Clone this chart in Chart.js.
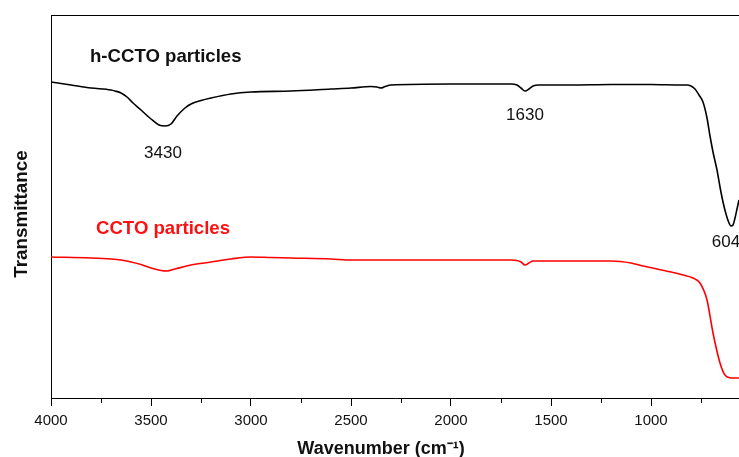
<!DOCTYPE html>
<html>
<head>
<meta charset="utf-8">
<script src="https://cdn.jsdelivr.net/npm/chart.js@4.4.1/dist/chart.umd.min.js"></script>
<style>
html,body{margin:0;padding:0;background:#fff;}
#wrap{width:739px;height:457px;position:relative;}
</style>
</head>
<body>
<div id="wrap"><canvas id="c" width="739" height="457"></canvas></div>
<script>
// Wavenumber (cm-1) and transmittance (arbitrary units)
const hWave = [4000,3900,3800,3700,3680,3650,3620,3590,3550,3500,3460,3430,3400,3370,3330,3300,3250,3200,3100,3000,2800,2600,2500,2400,2370,2350,2330,2300,2000,1800,1700,1670,1650,1630,1610,1590,1560,1400,1200,1000,850,820,800,780,760,740,720,705,690,670,655,640,625,612,600,590,580,570,560];
const hTrans = [316,313,310,308,307,305,301,295,288,279,273,272,274,282,290,294,297.5,300,304,306,307,309,310,311.5,311,310,311.5,313,314,314,314,313,310,307,309,312,313,313,313.5,313.5,313,313,312,309,303,296,280,262,246,228,211,196,184,176,172,173,180,189,198];

const cWave = [4000,3800,3700,3650,3600,3550,3500,3450,3420,3380,3300,3200,3100,3000,2900,2800,2600,2500,2000,1700,1670,1650,1630,1610,1590,1560,1500,1300,1200,1100,1040,900,840,790,755,720,690,655,630,595,560];
const cTrans = [141,140,139,138,136,133.5,130,127.5,127,129,133,136,139,141,140.5,140,139,138,138,138,137.5,136,133,135,137,137,137,137,137,135,132,126,123,120,115,98,65,35,23,20,20];

const xTicks = [4000,3750,3500,3250,3000,2750,2500,2250,2000,1750,1500,1250,1000,750];
const seriesNames = ['h-CCTO particles','CCTO particles'];
const peakLabels = [['3430',3440,245],['1630',1630,283],['604',625,156]];
const yTitle = 'Transmittance';
const xTitle = 'Wavenumber (cm\u207B\u00B9)';

const toPts = (w,t)=>w.map((v,i)=>({x:v,y:t[i]}));
const FONT = '"Liberation Sans", Arial, sans-serif';

const annot = {
  id:'annot',
  afterDraw(chart){
    const {ctx, chartArea:a, scales:{x,y}} = chart;
    ctx.save();
    // top frame line
    ctx.strokeStyle='#000'; ctx.lineWidth=1;
    ctx.beginPath(); ctx.moveTo(a.left, a.top+0.5); ctx.lineTo(a.right, a.top+0.5); ctx.stroke();
    // minor ticks (shorter)
    ctx.beginPath();
    xTicks.forEach(v=>{ if(v%500!==0){ const px=Math.round(x.getPixelForValue(v))+0.5; ctx.moveTo(px,a.bottom); ctx.lineTo(px,a.bottom+5);} });
    ctx.stroke();
    // series labels
    ctx.textBaseline='middle'; ctx.textAlign='left';
    ctx.font='bold 18.6px '+FONT;
    ctx.fillStyle='#111';
    ctx.fillText(seriesNames[0], x.getPixelForValue(3805), y.getPixelForValue(341));
    ctx.fillStyle='#ff1010';
    ctx.fillText(seriesNames[1], x.getPixelForValue(3775), y.getPixelForValue(169));
    // peak labels
    ctx.fillStyle='#111'; ctx.textAlign='center';
    ctx.font='17px '+FONT;
    peakLabels.forEach(([t,wx,wy])=>ctx.fillText(t, x.getPixelForValue(wx), y.getPixelForValue(wy)));
    // x axis title
    ctx.font='bold 18px '+FONT;
    ctx.textBaseline='alphabetic';
    ctx.fillText(xTitle, 381, 454);
    // y axis title
    ctx.textBaseline='middle';
    ctx.translate(22, 214); ctx.rotate(-Math.PI/2);
    ctx.font='bold 18.8px '+FONT;
    ctx.fillText(yTitle, 0, 0);
    ctx.restore();
  }
};

new Chart(document.getElementById('c'), {
  type:'line',
  data:{datasets:[
    {label:seriesNames[0], data:toPts(hWave,hTrans), borderColor:'#000', borderWidth:1.6, pointRadius:0, cubicInterpolationMode:'monotone', fill:false},
    {label:seriesNames[1], data:toPts(cWave,cTrans), borderColor:'#ff0000', borderWidth:1.6, pointRadius:0, cubicInterpolationMode:'monotone', fill:false}
  ]},
  options:{
    responsive:false, animation:false,
    layout:{padding:{top:15,right:0,left:0,bottom:0}},
    plugins:{legend:{display:false}, tooltip:{enabled:false}},
    scales:{
      x:{type:'linear', reverse:true, min:560, max:4000,
        afterBuildTicks(s){ s.ticks = xTicks.map(v=>({value:v})); },
        afterFit(s){ s.height = 59; },
        grid:{drawOnChartArea:false, drawTicks:true, tickLength:8, color:'#000',
          tickColor:(c)=> (c.tick && c.tick.value%500===0) ? '#000' : 'rgba(0,0,0,0)'},
        border:{display:true, color:'#000', width:1},
        ticks:{autoSkip:false, maxRotation:0, padding:6, color:'#111',
          font:{family:FONT, size:15},
          callback:(v)=> v%500===0 ? String(v) : ''},
        title:{display:false}
      },
      y:{type:'linear', min:0, max:383,
        afterFit(s){ s.width = 51; },
        grid:{drawOnChartArea:false, drawTicks:false},
        border:{display:true, color:'#000', width:1},
        ticks:{display:false},
        title:{display:false}
      }
    }
  },
  plugins:[annot]
});
</script>
</body>
</html>
